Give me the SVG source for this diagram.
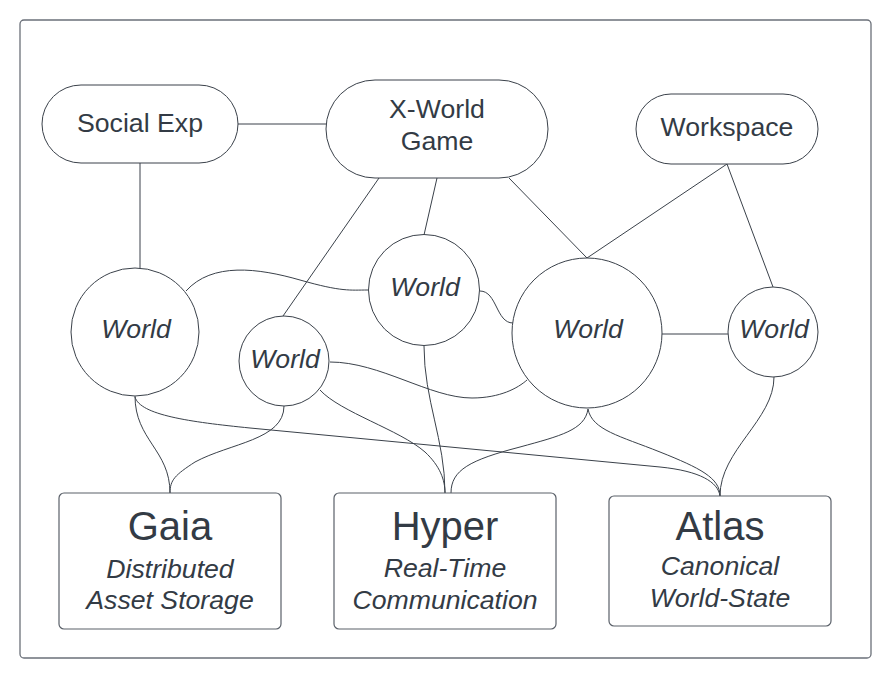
<svg xmlns="http://www.w3.org/2000/svg" width="890" height="677" viewBox="0 0 890 677">
<style>
.frame{fill:#ffffff;stroke:#6b7079;stroke-width:1.3}
.node{fill:#ffffff;stroke:#3a414a;stroke-width:1}
.box{fill:#ffffff;stroke:#5a6069;stroke-width:1.2}
.edge{fill:none;stroke:#3a414a;stroke-width:1}
text{font-family:"Liberation Sans",Arial,sans-serif;fill:#333b45;text-anchor:middle}
.lbl{font-size:26.67px}
.w{font-size:26.67px;font-style:italic}
.big{font-size:40px}
.sub{font-size:26.67px;font-style:italic}
</style>
<rect width="890" height="677" fill="#ffffff"/>
<rect class="frame" x="20" y="20" width="851" height="638" rx="4"/>
<g id="connectors">
<path class="edge" d="M238,124 L326,124"/>
<path class="edge" d="M140,163 L140,268"/>
<path class="edge" d="M379,178 L283,316"/>
<path class="edge" d="M437,178 L424,235"/>
<path class="edge" d="M509,178 L587,258"/>
<path class="edge" d="M727,164 L587,258"/>
<path class="edge" d="M727,164 L773,287"/>
<path class="edge" d="M662,334 L728,334"/>
<path class="edge" d="M186,291 C212,262 258,268 300,280 S350,290 368,290"/>
<path class="edge" d="M480,291 C497,291 496,323 513,323"/>
<path class="edge" d="M330,362 C380,362 430,398 472,398 C500,398 518,388 527,380"/>
<path class="edge" d="M320,390 C340,412 400,430 425,452 C440,466 445,480 445,493"/>
<path class="edge" d="M424,346 C424,400 445,440 445,493"/>
<path class="edge" d="M588,409 C585,430 560,436 520,447 C470,460 451,470 451,493"/>
<path class="edge" d="M588,409 C592,430 620,436 660,452 C700,468 720,478 720,496"/>
<path class="edge" d="M774,377 C774,420 720,450 720,496"/>
<path class="edge" d="M135,396 C135,440 170,450 170,493"/>
<path class="edge" d="M284,406 C284,440 230,443 195,462 C175,475 170,480 170,493"/>
<path class="edge" d="M135,397 C140,415 190,422 250,428 L660,467 C700,471 718,482 720,496"/>
</g>
<g id="social-exp">
<rect class="node" x="42" y="85" width="196" height="78" rx="39"/>
<text class="lbl" x="140" y="132">Social Exp</text>
</g>
<g id="x-world-game">
<rect class="node" x="326" y="80" width="222" height="98" rx="49"/>
<text class="lbl" x="437" y="118">X-World</text>
<text class="lbl" x="437" y="150">Game</text>
</g>
<g id="workspace">
<rect class="node" x="636" y="94" width="182" height="70" rx="35"/>
<text class="lbl" x="727" y="136">Workspace</text>
</g>
<g id="world-1">
<circle class="node" cx="135" cy="332" r="64"/>
<text class="w" x="136" y="338">World</text>
</g>
<g id="world-2">
<circle class="node" cx="284" cy="361" r="45"/>
<text class="w" x="285" y="368">World</text>
</g>
<g id="world-3">
<circle class="node" cx="424" cy="290" r="55.5"/>
<text class="w" x="425" y="296">World</text>
</g>
<g id="world-4">
<circle class="node" cx="587" cy="333" r="75"/>
<text class="w" x="588" y="338">World</text>
</g>
<g id="world-5">
<circle class="node" cx="773" cy="332" r="45"/>
<text class="w" x="774" y="338">World</text>
</g>
<g id="gaia">
<rect class="box" x="59" y="493" width="222" height="136" rx="5"/>
<text class="big" x="170" y="540">Gaia</text>
<text class="sub" x="170" y="578">Distributed</text>
<text class="sub" x="170" y="609">Asset Storage</text>
</g>
<g id="hyper">
<rect class="box" x="334" y="493" width="222" height="136" rx="5"/>
<text class="big" x="445" y="540">Hyper</text>
<text class="sub" x="445" y="577">Real-Time</text>
<text class="sub" x="445" y="609">Communication</text>
</g>
<g id="atlas">
<rect class="box" x="609" y="496" width="222" height="130" rx="5"/>
<text class="big" x="720" y="540">Atlas</text>
<text class="sub" x="720" y="575">Canonical</text>
<text class="sub" x="720" y="607">World-State</text>
</g>
</svg>
